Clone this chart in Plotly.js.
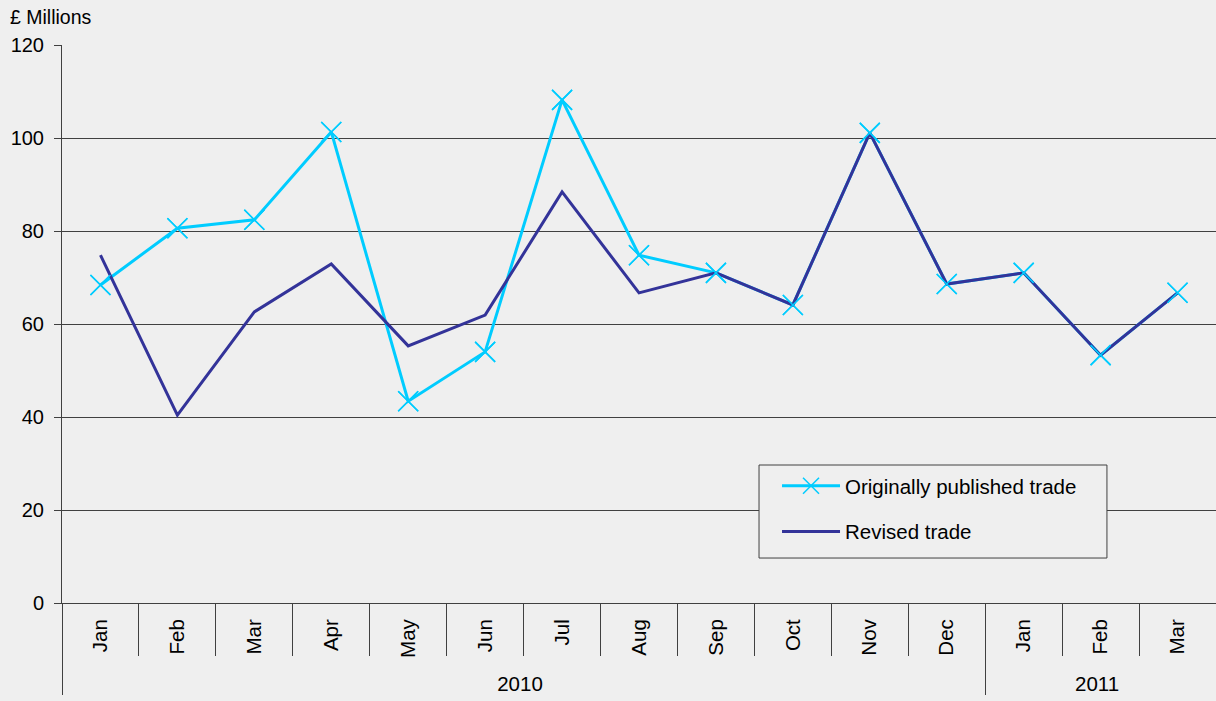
<!DOCTYPE html>
<html><head><meta charset="utf-8">
<script src="https://cdn.plot.ly/plotly-3.0.1.min.js"></script>
<style>html,body{margin:0;padding:0;background:#efefef;}</style>
</head><body>
<div id="chart" style="width:1216px;height:701px;"></div>
<script>
const years = ['2010','2010','2010','2010','2010','2010','2010','2010','2010','2010','2010','2010','2011','2011','2011'];
const months = ['Jan','Feb','Mar','Apr','May','Jun','Jul','Aug','Sep','Oct','Nov','Dec','Jan','Feb','Mar'];
const originallyPublished = [68.4, 80.6, 82.4, 101.3, 43.4, 54.0, 108.2, 74.8, 71.0, 64.1, 101.1, 68.6, 71.0, 53.3, 66.7];
const revised = [74.8, 40.4, 62.6, 72.9, 55.3, 61.9, 88.4, 66.7, 71.0, 64.1, 101.1, 68.6, 71.0, 53.3, 66.7];
const unitLabel = '£ Millions';
const seriesNames = ['Originally published trade', 'Revised trade'];

const cyan = '#00CCFF', navy = '#333399';
const fam = 'Liberation Sans, Arial, sans-serif';

const traces = [
  {x: [years, months], y: originallyPublished, name: seriesNames[0], type: 'scatter', mode: 'lines+markers',
   line: {color: cyan, width: 3}, marker: {symbol: 'x-thin', size: 20, line: {color: cyan, width: 1.5}},
   legendgroup: 'a'},
  {x: [years, months], y: revised, name: seriesNames[1], type: 'scatter', mode: 'lines',
   line: {color: navy, width: 3}, legendgroup: 'b'},
  {x: [years, months], y: originallyPublished, name: seriesNames[0], type: 'scatter', mode: 'markers',
   marker: {symbol: 'x-thin', size: 20, line: {color: cyan, width: 1.5}}, showlegend: false, hoverinfo: 'skip'}
];

const layout = {
  width: 1216, height: 701,
  margin: {l: 62, r: 0, t: 45, b: 98},
  paper_bgcolor: '#efefef', plot_bgcolor: '#efefef',
  font: {family: fam, size: 20, color: '#000'},
  showlegend: true,
  legend: {x: 0.6196, y: 0.2455, xanchor: 'left', yanchor: 'top', bgcolor: 'rgba(0,0,0,0)',
           borderwidth: 0, font: {family: fam, size: 20.5, color: '#000'},
           traceorder: 'grouped', tracegroupgap: 16, itemwidth: 58},
  xaxis: {type: 'multicategory', range: [-0.5, 14.5], showline: true, linecolor: '#404040', linewidth: 1,
          ticks: 'outside', tickson: 'boundaries', ticklen: 52, tickcolor: '#404040',
          tickangle: -90, showdividers: true, dividercolor: '#404040', dividerwidth: 1,
          ticklabelstandoff: 7,
          showgrid: false, tickfont: {family: fam, size: 20.5, color: '#000'}},
  yaxis: {range: [0, 120], dtick: 20, showline: true, linecolor: '#404040', linewidth: 1,
          ticks: 'outside', ticklen: 7, tickcolor: '#404040', gridcolor: '#404040', gridwidth: 1,
          ticklabelstandoff: 6,
          zeroline: false, tickfont: {family: fam, size: 20, color: '#000'}},
  shapes: [{type: 'rect', xref: 'paper', yref: 'paper', x0: 0.6040, x1: 0.9055, y0: 0.0806, y1: 0.2473,
            fillcolor: '#efefef', line: {color: '#404040', width: 1}, layer: 'above'}],
  annotations: [{text: unitLabel, xref: 'paper', yref: 'paper', x: -0.0468, y: 1.0502, xanchor: 'left', yanchor: 'middle',
                 showarrow: false, font: {family: fam, size: 19.5, color: '#000'}}]
};

Plotly.newPlot('chart', traces, layout, {displayModeBar: false, staticPlot: true});
</script>
</body></html>
